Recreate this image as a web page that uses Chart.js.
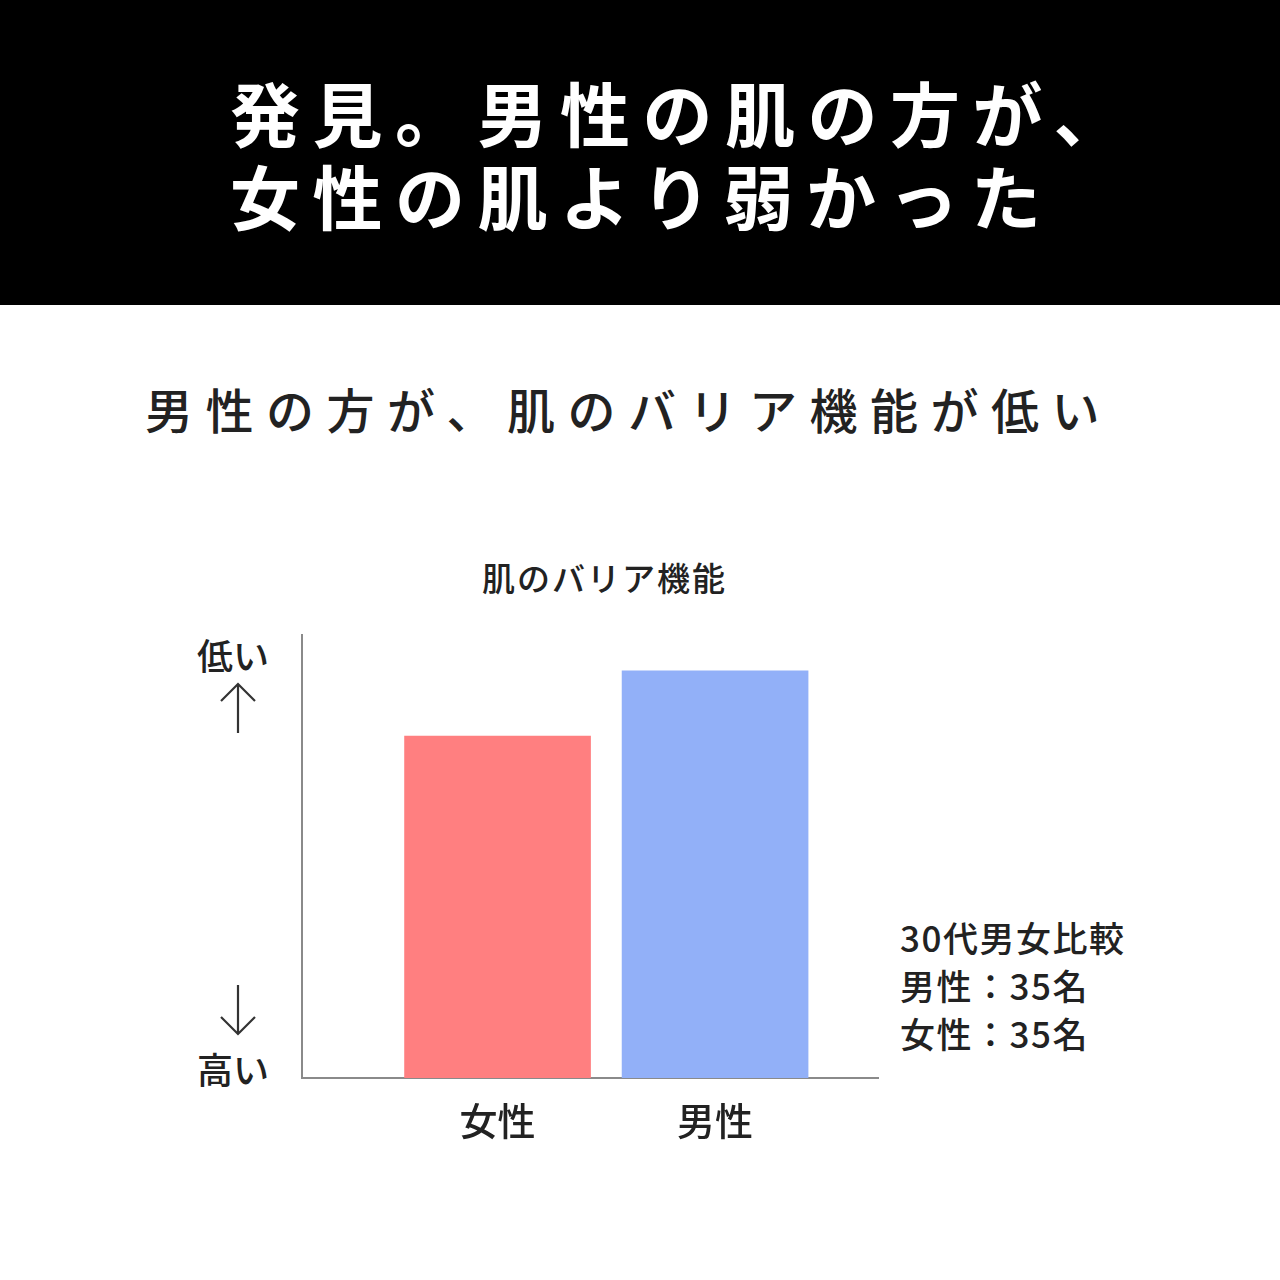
<!DOCTYPE html>
<html lang="ja">
<head>
<meta charset="utf-8">
<script src="https://cdn.jsdelivr.net/npm/chart.js@4.4.1/dist/chart.umd.min.js"></script>
<style>
  html, body { margin: 0; padding: 0; }
  body {
    width: 1280px; height: 1280px; position: relative; overflow: hidden;
    background: #fff; font-family: "Noto Sans CJK JP", "Noto Sans", sans-serif; color: #222;
  }
  .header { position: absolute; left: 0; top: 0; width: 1280px; height: 305px; background: #000; }
  .header div {
    position: absolute; left: 230px; color: #fff; font-weight: 700;
    font-size: 70px; letter-spacing: 12.5px; line-height: 1; white-space: nowrap;
  }
  .sub {
    position: absolute; left: 145px; top: 384px; font-size: 48px; font-weight: 500;
    letter-spacing: 12.5px; line-height: 1; white-space: nowrap;
  }
  .ctitle {
    position: absolute; left: 482px; top: 561px; font-size: 33px; font-weight: 500;
    letter-spacing: 2px; line-height: 1; white-space: nowrap;
  }
  .ylab { position: absolute; left: 197px; font-size: 36px; font-weight: 500; line-height: 1; }
  .note {
    position: absolute; left: 900px; top: 913px; font-size: 35px; font-weight: 500;
    letter-spacing: 1.5px; line-height: 48px; white-space: nowrap;
  }
  svg.arrow { position: absolute; left: 218px; }
  #wrap { position: absolute; left: 180px; top: 620px; width: 720px; height: 530px; }
</style>
</head>
<body>
<div class="header">
  <div style="top:77px">発見。男性の肌の方が、</div>
  <div style="top:160px">女性の肌より弱かった</div>
</div>
<div class="sub">男性の方が、肌のバリア機能が低い</div>
<div class="ctitle">肌のバリア機能</div>
<div class="ylab" style="top:636px">低い</div>
<svg class="arrow" style="top:682px" width="40" height="52" viewBox="0 0 40 52">
  <path d="M20 2 V51 M3 19 L20 2 L37 19" fill="none" stroke="#333" stroke-width="2.2"/>
</svg>
<svg class="arrow" style="top:984px" width="40" height="52" viewBox="0 0 40 52">
  <path d="M20 1 V50 M3 33 L20 50 L37 33" fill="none" stroke="#333" stroke-width="2.2"/>
</svg>
<div class="ylab" style="top:1050px">高い</div>
<div class="note">30代男女比較<br>男性：35名<br>女性：35名</div>
<div id="wrap"><canvas id="chart"></canvas></div>

<script>
// カテゴリと値（上ほどバリア機能が低い）
const categories = ['女性', '男性'];
const positions = [1, 2];
const values = [77.2, 91.9];
const barColors = ['#ff7f80', '#92b0f8'];

const ctx = document.getElementById('chart').getContext('2d');
new Chart(ctx, {
  type: 'bar',
  data: {
    datasets: [{
      data: positions.map((p, i) => ({ x: p, y: values[i] })),
      backgroundColor: barColors,
      borderWidth: 0,
      barThickness: 186
    }]
  },
  options: {
    responsive: true,
    maintainAspectRatio: false,
    animation: false,
    layout: { padding: { left: 0, top: 15, right: 22, bottom: 0 } },
    plugins: { legend: { display: false }, tooltip: { enabled: false } },
    scales: {
      x: {
        type: 'linear',
        offset: false,
        min: 0.101,
        max: 2.749,
        afterBuildTicks: s => { s.ticks = positions.map(v => ({ value: v })); },
        afterFit: s => { s.height = 72; },
        grid: { display: false, offset: false },
        border: { display: true, color: '#8a8a8a', width: 2 },
        ticks: {
          padding: 12,
          color: '#222',
          font: { family: '"Noto Sans CJK JP"', size: 38, weight: '500' },
          callback: v => categories[positions.indexOf(v)] || ''
        }
      },
      y: {
        min: 0,
        max: 100,
        afterFit: s => { s.width = 122; },
        grid: { display: false },
        border: { display: true, color: '#8a8a8a', width: 2 },
        ticks: { display: false }
      }
    }
  }
});
</script>
</body>
</html>
